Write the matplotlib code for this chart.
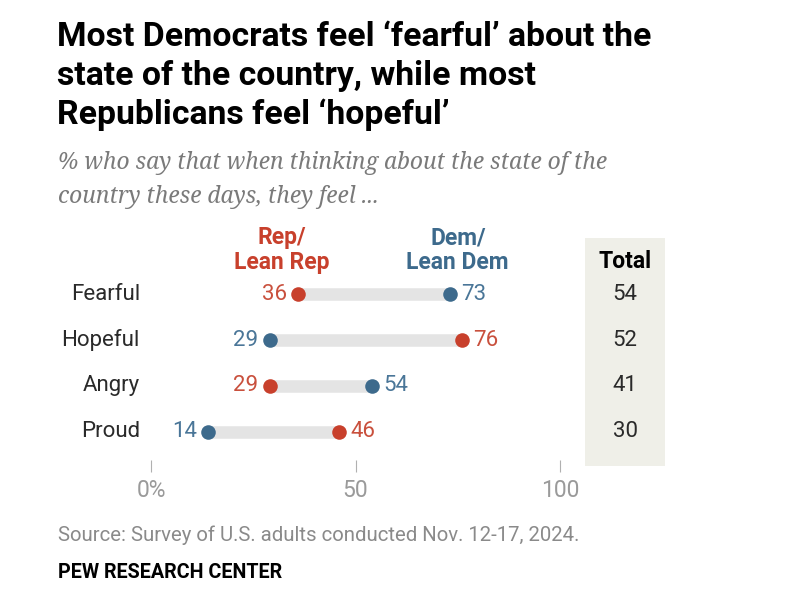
import matplotlib.pyplot as plt
from matplotlib.patches import Rectangle
from matplotlib.transforms import blended_transform_factory

# dados
emocoes = ['Fearful', 'Hopeful', 'Angry', 'Proud']
rep = [36, 76, 29, 46]
dem = [73, 29, 54, 14]
total = [54, 52, 41, 30]
ticks = [0, 50, 100]
tick_labels = ['0%', '50', '100']

vermelho = '#c8402c'
azul = '#3d6a8c'
txt_verm = '#c9503d'
txt_azul = '#4a7698'
cinza_barra = '#e4e4e4'
plt.rcParams['font.family'] = ['Roboto', 'DejaVu Sans']

W, H = 800, 606
fig = plt.figure(figsize=(8, 6.06), dpi=100)

def fx(px):
    return px / W

def fy(py):
    return 1 - py / H

# titulo e subtitulo
titulo = "Most Democrats feel \u2018fearful\u2019 about the\nstate of the country, while most\nRepublicans feel \u2018hopeful\u2019"
fig.text(fx(57), fy(21), titulo, fontsize=24.3, fontweight='bold',
         color='black', va='top', ha='left', linespacing=1.27)
sub = "% who say that when thinking about the state of the\ncountry these days, they feel ..."
fig.text(fx(58), fy(151), sub, fontsize=16.4, style='italic', family=['Noto Serif', 'DejaVu Serif'],
         color='#7a7a7a', va='top', ha='left', linespacing=1.55)

# coluna total
fig.patches.append(Rectangle((fx(585), fy(466)), fx(665) - fx(585), fy(238) - fy(466),
                             transform=fig.transFigure, facecolor='#efefe8', edgecolor='none', zorder=-1))
fig.text(fx(625), fy(262), 'Total', fontsize=16.5, fontweight='bold',
         color='black', ha='center', va='center')

# eixo
ax = fig.add_axes([fx(151), fy(472), fx(560) - fx(151), fy(230) - fy(472)])
ax.set_facecolor('none')
ax.set_xlim(0, 100)
ax.set_ylim(3.88, -1.40)
for s in ax.spines.values():
    s.set_visible(False)
ax.set_yticks([])
ax.set_xticks(ticks)
ax.set_xticklabels(tick_labels)
ax.tick_params(axis='x', direction='in', length=9, width=0.8, color='#b0b0b0',
               labelsize=16.5, labelcolor='#9a9a9a', pad=5)

col_total = blended_transform_factory(fig.transFigure, ax.transData)

for i, nome in enumerate(emocoes):
    r, d = rep[i], dem[i]
    ax.hlines(i, min(r, d), max(r, d), color=cinza_barra, linewidth=9, zorder=1)
    ax.scatter([r], [i], s=110, color=vermelho, zorder=3, linewidths=0)
    ax.scatter([d], [i], s=110, color=azul, zorder=3, linewidths=0)
    if r < d:
        esq, dir_, cesq, cdir = r, d, txt_verm, txt_azul
    else:
        esq, dir_, cesq, cdir = d, r, txt_azul, txt_verm
    ax.annotate(str(esq), (esq, i), xytext=(-8, 0), textcoords='offset points',
                ha='right', va='center', fontsize=16, color=cesq)
    ax.annotate(str(dir_), (dir_, i), xytext=(8, 0), textcoords='offset points',
                ha='left', va='center', fontsize=16, color=cdir)
    ax.annotate(nome, (0, i), xycoords=('axes fraction', 'data'), xytext=(-8, 0),
                textcoords='offset points', ha='right', va='center', fontsize=16, color='#2a2a2a')
    ax.text(fx(625), i, str(total[i]), transform=col_total, ha='center', va='center',
            fontsize=16, color='#2a2a2a')

# cabecalhos
ax.text(32, -0.96, 'Rep/\nLean Rep', ha='center', va='center', fontsize=16.5, fontweight='bold',
        color=vermelho, linespacing=1.1)
ax.text(75, -0.96, 'Dem/\nLean Dem', ha='center', va='center', fontsize=16.5, fontweight='bold',
        color=azul, linespacing=1.1)

# rodape
fig.text(fx(58), fy(535), 'Source: Survey of U.S. adults conducted Nov. 12-17, 2024.', fontsize=14.7,
         color='#8a8a8a', ha='left', va='center')
fig.text(fx(58), fy(573), 'PEW RESEARCH CENTER', fontsize=14.2, fontweight='bold',
         color='black', ha='left', va='center')

fig.savefig('out.png', dpi=100)
